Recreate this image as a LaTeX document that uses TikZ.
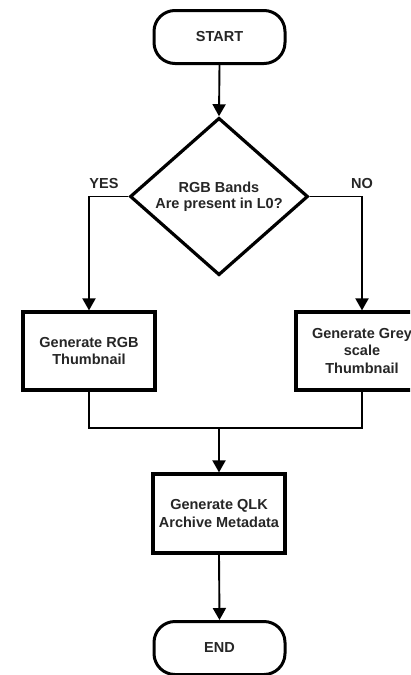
\documentclass[tikz,border=0pt]{standalone}
\usepackage{fontspec}
\setmainfont{Liberation Sans}
\usetikzlibrary{arrows.meta,shapes.geometric}
\begin{document}
\begin{tikzpicture}[x=1pt,y=-1pt,
  txt/.style={font=\fontsize{14.5}{17.5}\selectfont\bfseries, text=black!85, align=center},
  term/.style={txt, draw, line width=3pt, rounded corners=21pt, minimum width=131pt, minimum height=53pt, inner sep=0pt},
  proc/.style={txt, draw, line width=3.2pt, minimum width=132pt, minimum height=78pt, inner sep=0pt},
  decis/.style={txt, draw, line width=3.2pt, shape=diamond, minimum width=178pt, minimum height=107pt, inner sep=0pt},
  conn/.style={line width=1.9pt},
  arr/.style={conn, -{Triangle[length=12pt,width=13pt]}},
  lbl/.style={txt}
]
\useasboundingbox (0,0) rectangle (410,675);
\clip (0,0) rectangle (410,675);
\fill[white] (0,0) rectangle (410,675);
\node[term] (start) at (219.5,37) {START};
\node[decis] (dec) at (219,196.5) {RGB Bands\\[-1pt]Are present in L0?};
\node[proc] (rgb) at (89,351) {Generate RGB\\Thumbnail};
\node[proc] (grey) at (362,351) {Generate Grey\\scale\\Thumbnail};
\node[proc, minimum height=79pt] (qlk) at (219,513.5) {Generate QLK\\Archive Metadata};
\node[term] (end) at (219.5,648) {END};
\coordinate (j) at (219,428);
\node[lbl] (yes) at (104,184) {YES};
\node[lbl] (no) at (362,184) {NO};
\draw[arr] (start.south) -- (dec.north);
\draw[arr] (dec.west) -| (rgb.north);
\draw[arr] (dec.east) -| (grey.north);
\draw[conn] (rgb.south) |- (j) -| (grey.south);
\draw[arr] (j) -- (qlk.north);
\draw[arr] (qlk.south) -- (end.north);
\end{tikzpicture}
\end{document}
